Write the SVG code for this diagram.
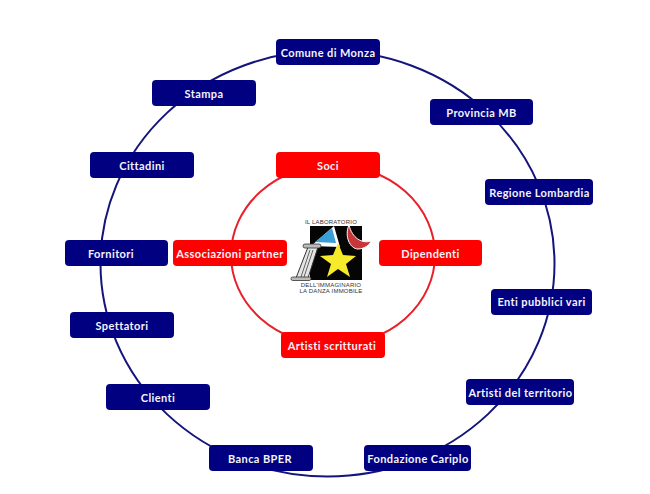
<svg xmlns="http://www.w3.org/2000/svg" width="650" height="494" viewBox="0 0 650 494">
<style>
.n{stroke:none}
.b{fill:#000080}
.r{fill:#ff0000}
text{font-family:"Lato","Liberation Sans",sans-serif;font-weight:700;font-size:11px;fill:#f4f4fa;text-anchor:middle;letter-spacing:.4px}
.l{font-family:"Liberation Sans",sans-serif;font-weight:400;font-size:6px;fill:#333;letter-spacing:.2px}
</style>
<rect width="650" height="494" fill="#fff"/>
<g id="connectors" fill="none" stroke-width="2">
<ellipse cx="327.500" cy="263.500" rx="227" ry="213" stroke="#14147a"/>
<ellipse cx="333" cy="255" rx="102" ry="90" stroke="#e8202a"/>
</g>
<g id="n-comune"><rect class="b" x="276" y="39" width="104" height="26" rx="4"/><text x="328" y="57">Comune di Monza</text></g>
<g id="n-provincia"><rect class="b" x="430" y="99" width="103" height="26" rx="4"/><text x="481.500" y="117">Provincia MB</text></g>
<g id="n-regione"><rect class="b" x="485" y="179" width="108" height="26" rx="4"/><text x="539.500" y="197">Regione Lombardia</text></g>
<g id="n-enti"><rect class="b" x="491" y="289" width="101" height="26" rx="4"/><text x="541.500" y="306">Enti pubblici vari</text></g>
<g id="n-artisti-territorio"><rect class="b" x="466" y="379" width="108" height="26" rx="4"/><text x="520.500" y="397">Artisti del territorio</text></g>
<g id="n-fondazione"><rect class="b" x="364" y="445" width="107" height="26" rx="4"/><text x="418" y="463">Fondazione Cariplo</text></g>
<g id="n-banca"><rect class="b" x="209" y="445" width="104" height="26" rx="4"/><text x="260" y="463">Banca BPER</text></g>
<g id="n-clienti"><rect class="b" x="106" y="384" width="104" height="26" rx="4"/><text x="158" y="402">Clienti</text></g>
<g id="n-spettatori"><rect class="b" x="70" y="312" width="104" height="26" rx="4"/><text x="122" y="330">Spettatori</text></g>
<g id="n-fornitori"><rect class="b" x="65" y="240" width="103" height="26" rx="4"/><text x="111" y="258">Fornitori</text></g>
<g id="n-cittadini"><rect class="b" x="90" y="152" width="104" height="26" rx="4"/><text x="142" y="170">Cittadini</text></g>
<g id="n-stampa"><rect class="b" x="152" y="80" width="104" height="26" rx="4"/><text x="204" y="98">Stampa</text></g>
<g id="n-soci"><rect class="r" x="276" y="152" width="104" height="26" rx="4"/><text x="328" y="170">Soci</text></g>
<g id="n-dipendenti"><rect class="r" x="379" y="240" width="103" height="26" rx="4"/><text x="430.500" y="258">Dipendenti</text></g>
<g id="n-artisti-scritturati"><rect class="r" x="281" y="332" width="104" height="26" rx="4"/><text x="332" y="350">Artisti scritturati</text></g>
<g id="n-associazioni"><rect class="r" x="173" y="240" width="114" height="26" rx="4"/><text x="230" y="258">Associazioni partner</text></g>
<g id="logo">
<rect x="310" y="226" width="52" height="54" fill="#050505"/>
<polygon points="311,246 334,226 340,247" fill="#fff"/>
<polygon points="315,242 332,228 336,243" fill="#3a9fd6"/>
<path d="M349,225 C344,236 350,249 358,249 C364,249 370,245 371,241 C362,244 352,238 349,225Z" fill="#c8363a" stroke="#fff" stroke-width="1"/>
<polygon points="338,243 343,255 356,256 346,264 350,277 338,269 327,277 331,264 320,256 333,255" fill="#f7ea2a"/>
<polygon points="308,247 318,247 308,278 296,278" fill="#e4e4e4" stroke="#333" stroke-width="1"/>
<path d="M310,250 L301,277 M313,250 L304,277" stroke="#444" stroke-width=".8" fill="none"/>
<rect x="303" y="244" width="18" height="4" rx="2" fill="#bbb" stroke="#333" stroke-width=".8"/>
<rect x="291" y="277" width="20" height="3.500" rx="1.700" fill="#bbb" stroke="#333" stroke-width=".8"/>
<text class="l" x="331" y="224">IL LABORATORIO</text>
<text class="l" x="331" y="287">DELL'IMMAGINARIO</text>
<text class="l" x="331" y="293">LA DANZA IMMOBILE</text>
</g>
</svg>
